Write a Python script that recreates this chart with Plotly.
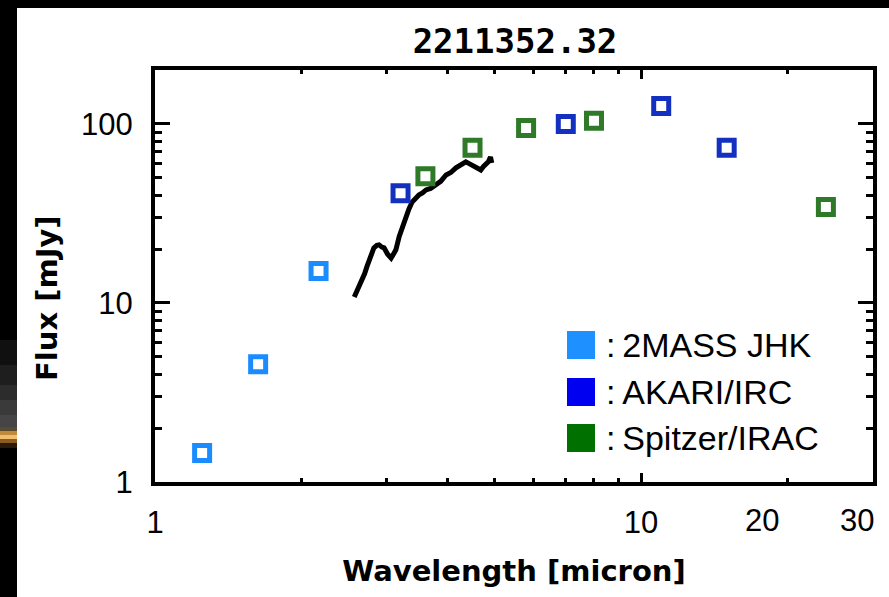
import plotly.graph_objects as go

# --- photometry (wavelength in micron, flux in mJy) ---
mass_wl = [1.25, 1.63, 2.17]
mass_flux = [1.45, 4.55, 15.1]

akari_wl = [3.2, 7.0, 11.0, 15.0]
akari_flux = [41.0, 100.0, 126.0, 73.5]

irac_wl = [3.6, 4.5, 5.8, 8.0, 24.0]
irac_flux = [51.0, 73.5, 95.0, 104.0, 34.4]

# --- near-IR spectrum ---
spec_wl = [2.57, 2.60, 2.62, 2.65, 2.67, 2.70, 2.73, 2.78, 2.82, 2.86, 2.89, 2.93,
           2.96, 3.01, 3.06, 3.10, 3.13, 3.18, 3.23, 3.28, 3.33, 3.38, 3.43, 3.49,
           3.55, 3.61, 3.69, 3.78, 3.87, 3.97, 4.06, 4.16, 4.26, 4.36, 4.42, 4.48,
           4.58, 4.68, 4.74, 4.79, 4.85, 4.90, 4.93]
spec_flux = [10.8, 11.6, 11.9, 13.0, 13.4, 14.6, 16.0, 18.6, 20.3, 21.0, 21.1, 20.5,
             20.3, 18.7, 17.8, 18.9, 19.8, 23.5, 27.0, 30.2, 33.5, 36.6, 38.2, 40.1,
             41.2, 42.8, 43.6, 45.6, 47.8, 51.9, 53.5, 56.8, 59.0, 61.3, 60.2, 59.0,
             56.2, 55.3, 57.8, 59.0, 61.5, 65.4, 60.5]

legend_labels = [":\u20092MASS JHK", ":\u2009AKARI/IRC", ":\u2009Spitzer/IRAC"]
legend_colors = ["#1e90ff", "#0000f0", "#007000"]

x_ticks = [1, 10]
x_tick_text = ["1", "10"]
x_extra_labels = ["20", "30"]
y_ticks = [1, 10, 100]
y_tick_text = ["1", "10", "100"]

W, H = 889, 597
L, R, T, B = 155, 16, 70, 115


def px(x):
    return (x - L) / (W - L - R)


def py(y):
    return (H - B - y) / (H - T - B)


open_sq = dict(symbol="square-open", size=15, line=dict(width=5))

fig = go.Figure()
fig.add_trace(go.Scatter(x=spec_wl, y=spec_flux, mode="lines",
                         line=dict(color="black", width=5), showlegend=False))
fig.add_trace(go.Scatter(x=mass_wl, y=mass_flux, mode="markers",
                         marker=dict(color="#1a8cff", **open_sq), showlegend=False))
fig.add_trace(go.Scatter(x=akari_wl, y=akari_flux, mode="markers",
                         marker=dict(color="#1430c0", **open_sq), showlegend=False))
fig.add_trace(go.Scatter(x=irac_wl, y=irac_flux, mode="markers",
                         marker=dict(color="#2e7a28", **open_sq), showlegend=False))

tick_font = dict(family="Liberation Sans", size=31, color="black")
axis_common = dict(type="log", showline=True, linecolor="black", linewidth=4,
                   mirror="allticks", ticks="inside", tickcolor="black",
                   tickwidth=3, showgrid=False, zeroline=False, tickfont=tick_font)

fig.update_xaxes(range=[0, 1.4771], tickvals=x_ticks, ticktext=x_tick_text,
                 ticklen=9, ticklabelstandoff=10,
                 minor=dict(tickvals=[2, 3, 4, 5, 6, 7, 8, 9, 20], ticks="inside",
                            ticklen=4, tickwidth=3, tickcolor="black", showgrid=False),
                 title=dict(text="<b>Wavelength [micron]</b>", standoff=22,
                            font=dict(family="DejaVu Sans", size=29, color="black")),
                 **axis_common)
fig.update_yaxes(range=[0, 2.30103], tickvals=y_ticks, ticktext=y_tick_text,
                 ticklen=15, ticklabelstandoff=12,
                 minor=dict(tickvals=[2, 3, 4, 5, 6, 7, 8, 9, 20, 30, 40, 50, 60, 70, 80, 90],
                            ticks="inside", ticklen=7, tickwidth=3, tickcolor="black",
                            showgrid=False),
                 **axis_common)

shapes = [
    # slide frame: black edge with white panel
    dict(type="rect", xref="paper", yref="paper", x0=px(17), x1=px(W + 5),
         y0=py(H + 5), y1=py(8), fillcolor="white", line_width=0, layer="below"),
]
# gradient glow on the slide's left edge
glow = [(340, 365, "#101010"), (365, 385, "#1e1e1e"), (385, 400, "#2c2c2c"),
        (400, 415, "#3a3a3a"), (415, 427, "#454545"), (427, 431, "#5a4a30"),
        (431, 435, "#c08a3a"), (435, 439, "#f0c070"), (439, 443, "#8a5a20"),
        (443, 448, "#2a1a08")]
for y0, y1, c in glow:
    shapes.append(dict(type="rect", xref="paper", yref="paper", x0=px(0), x1=px(17),
                       y0=py(y1), y1=py(y0), fillcolor=c, line_width=0, layer="below"))

annotations = []
row_y = [345, 392, 438]
for lab, col, yc in zip(legend_labels, legend_colors, row_y):
    shapes.append(dict(type="rect", xref="paper", yref="paper",
                       x0=px(567), x1=px(595), y0=py(yc + 14), y1=py(yc - 14),
                       fillcolor=col, line_width=0))
    annotations.append(dict(xref="paper", yref="paper", x=px(604), y=py(yc),
                            xanchor="left", yanchor="middle", showarrow=False,
                            text=lab, font=dict(family="Liberation Sans", size=34,
                                                color="black")))

for lab, xc in zip(x_extra_labels, [762, 857]):
    annotations.append(dict(xref="paper", yref="paper", x=px(xc), y=py(520),
                            xanchor="center", yanchor="middle", showarrow=False,
                            text=lab, font=tick_font))

annotations.append(dict(xref="paper", yref="paper", x=px(47), y=py(298),
                        xanchor="center", yanchor="middle", showarrow=False,
                        textangle=-90, text="<b>Flux [mJy]</b>",
                        font=dict(family="DejaVu Sans", size=29, color="black")))

fig.update_layout(
    width=W, height=H,
    margin=dict(l=L, r=R, t=T, b=B),
    paper_bgcolor="black", plot_bgcolor="white",
    title=dict(text="<b>2211352.32</b>", x=515 / W, y=1 - 41 / H,
               xanchor="center", yanchor="middle",
               font=dict(family="DejaVu Sans Mono", size=34, color="black")),
    shapes=shapes, annotations=annotations, showlegend=False,
)

fig.write_html("out.html")
